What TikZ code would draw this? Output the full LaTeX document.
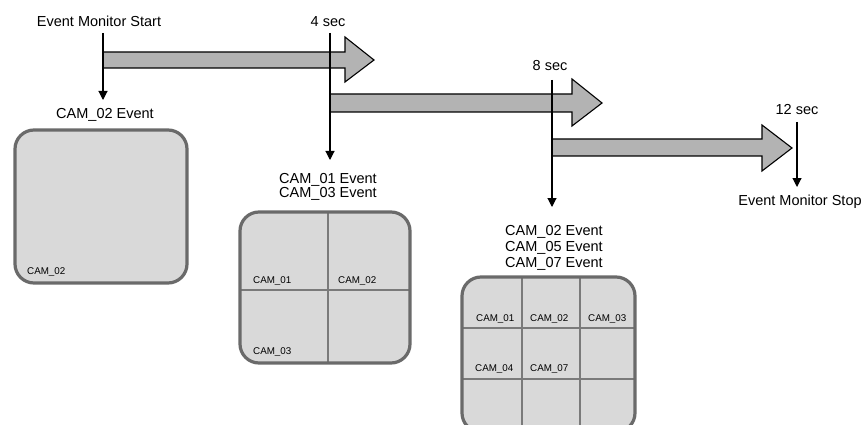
\documentclass[tikz,border=0pt]{standalone}
\usepackage{fontspec}
\setmainfont{Liberation Sans}
\usetikzlibrary{arrows.meta}
\definecolor{arrowfill}{HTML}{B3B3B3}
\definecolor{boxfill}{HTML}{D9D9D9}
\definecolor{boxedge}{HTML}{6A6A6A}
\definecolor{gridline}{HTML}{7A7A7A}
\tikzset{
  bigtext/.style={inner sep=0pt, anchor=base, font=\fontsize{14.5}{16}\selectfont},
  smalltext/.style={inner sep=0pt, anchor=base west, font=\fontsize{9.8}{11}\selectfont},
  fatarrow/.style={fill=arrowfill, draw=black, line width=1.1pt, line join=miter},
  evline/.style={draw=black, line width=1.1pt, -{Triangle[length=9pt,width=9pt]}},
  screenfill/.style={fill=boxfill, rounded corners=19pt},
  screenedge/.style={draw=boxedge, line width=3.2pt, rounded corners=19pt},
  gridstyle/.style={draw=gridline, line width=1.6pt}
}
\begin{document}
\begin{tikzpicture}[x=1pt,y=-1pt]
\useasboundingbox (0,0) rectangle (862,425);
\begin{scope}
\clip (0,0) rectangle (862,425);

% fat arrows
\draw[fatarrow] (103,52) -- (345,52) -- (345,37) -- (374,60) -- (345,82) -- (345,68) -- (103,68) -- cycle;
\draw[fatarrow] (330,94) -- (572,94) -- (572,79) -- (602,103) -- (572,126) -- (572,112) -- (330,112) -- cycle;
\draw[fatarrow] (552,139) -- (762,139) -- (762,125) -- (792,148) -- (762,171) -- (762,156) -- (552,156) -- cycle;

% labels
\node[bigtext] (start) at (99,27) {Event Monitor Start};
\node[bigtext] (s4) at (328,27) {4 sec};
\node[bigtext] (s8) at (550,71) {8 sec};
\node[bigtext] (s12) at (797,115) {12 sec};
\node[bigtext] (stop) at (800,205) {Event Monitor Stop};
\node[bigtext] (ev1) at (105,119) {CAM\_02 Event};
\node[bigtext] (ev2a) at (328,183) {CAM\_01 Event};
\node[bigtext] (ev2b) at (328,197) {CAM\_03 Event};
\node[bigtext] (ev3a) at (554,235) {CAM\_02 Event};
\node[bigtext] (ev3b) at (554,251) {CAM\_05 Event};
\node[bigtext] (ev3c) at (554,267) {CAM\_07 Event};

% event lines
\coordinate (t1) at (103,33); \coordinate (b1) at (103,100);
\coordinate (t2) at (330,33); \coordinate (b2) at (330,160);
\coordinate (t3) at (552,80); \coordinate (b3) at (552,207);
\coordinate (t4) at (797,122); \coordinate (b4) at (797,187);
\draw[evline] (t1) -- (b1);
\draw[evline] (t2) -- (b2);
\draw[evline] (t3) -- (b3);
\draw[evline] (t4) -- (b4);

% screen 1
\fill[screenfill] (15,130) rectangle (187,283);
\draw[screenedge] (15,130) rectangle (187,283);
\node[smalltext] (s1c2) at (27,274) {CAM\_02};

% screen 2
\fill[screenfill] (240,212) rectangle (410,363);
\draw[gridstyle] (328,212) -- (328,363);
\draw[gridstyle] (240,290) -- (410,290);
\draw[screenedge] (240,212) rectangle (410,363);
\node[smalltext] (s2c1) at (253,283) {CAM\_01};
\node[smalltext] (s2c2) at (338,283) {CAM\_02};
\node[smalltext] (s2c3) at (253,354) {CAM\_03};

% screen 3
\fill[screenfill] (462,277) rectangle (635,432);
\draw[gridstyle] (522,277) -- (522,432);
\draw[gridstyle] (580,277) -- (580,432);
\draw[gridstyle] (462,328) -- (635,328);
\draw[gridstyle] (462,379) -- (635,379);
\draw[screenedge] (462,277) rectangle (635,432);
\node[smalltext] (s3c1) at (476,321) {CAM\_01};
\node[smalltext] (s3c2) at (530,321) {CAM\_02};
\node[smalltext] (s3c3) at (588,321) {CAM\_03};
\node[smalltext] (s3c4) at (475,371) {CAM\_04};
\node[smalltext] (s3c7) at (530,371) {CAM\_07};
\end{scope}
\end{tikzpicture}
\end{document}
